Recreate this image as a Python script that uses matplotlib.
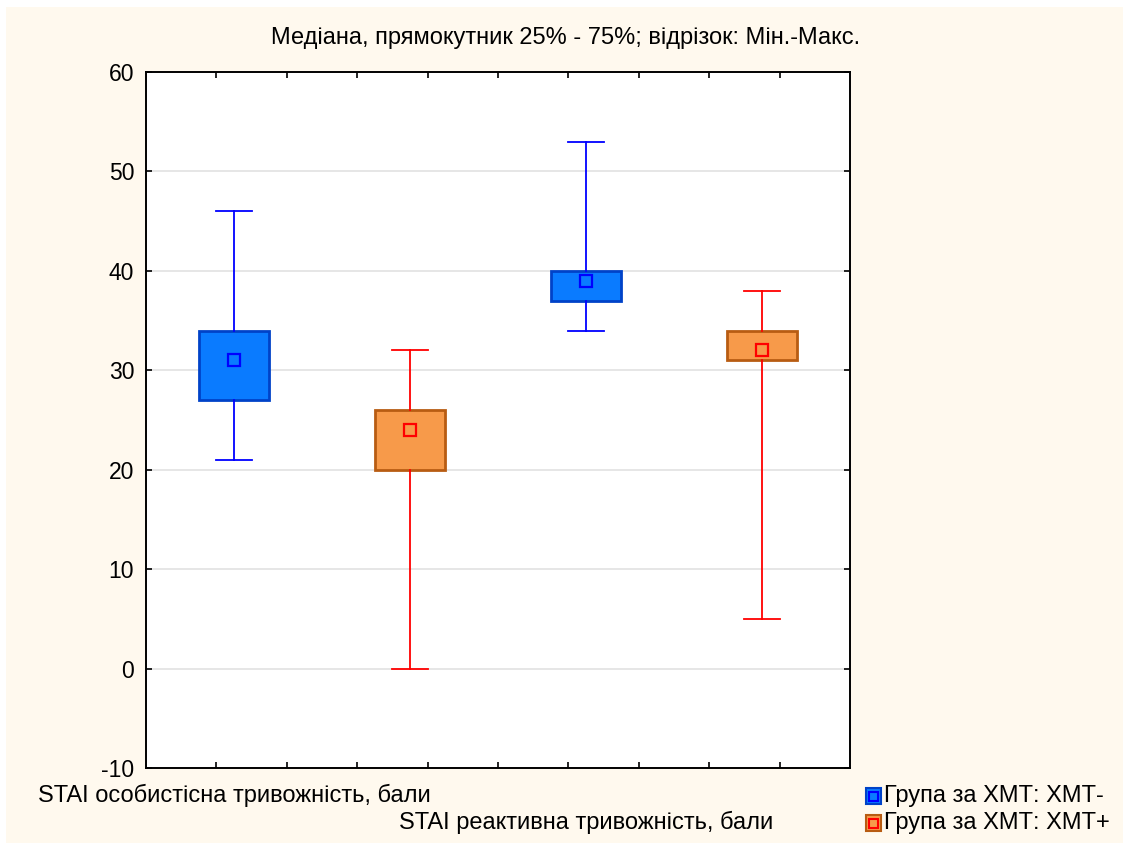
import matplotlib.pyplot as plt
from matplotlib.patches import Rectangle
from matplotlib.transforms import blended_transform_factory

plt.rcParams['font.family'] = ['Liberation Sans', 'DejaVu Sans']
plt.rcParams['axes.unicode_minus'] = False

# summary statistics per box: min, Q1, median, Q3, max
groups = ['STAI особистісна тривожність, бали', 'STAI реактивна тривожність, бали']
series = ['Група за ХМТ: ХМТ-', 'Група за ХМТ: ХМТ+']
mins = [[21, 34], [0, 5]]
q1s = [[27, 37], [20, 31]]
medians = [[31, 39], [24, 32]]
q3s = [[34, 40], [26, 34]]
maxs = [[46, 53], [32, 38]]

box_fill = ['#0A7BFF', '#F79A4A']
box_edge = ['#0042C8', '#B85C12']
line_col = ['#0000FF', '#FF0000']
yticks = [-10, 0, 10, 20, 30, 40, 50, 60]

fig = plt.figure(figsize=(11.23, 8.43), dpi=100, facecolor='white')
fig.patches.append(Rectangle((6 / 1123, 0), 1, 1 - 7 / 843, transform=fig.transFigure,
                             facecolor='#FFF9EE', edgecolor='none', zorder=-10))
ax = fig.add_axes([146 / 1123, 1 - 768 / 843, 704 / 1123, 696 / 843])
ax.set_facecolor('white')

for s in range(len(series)):
    stats = []
    positions = []
    for g in range(len(groups)):
        stats.append(dict(whislo=mins[s][g], q1=q1s[s][g], med=medians[s][g],
                          q3=q3s[s][g], whishi=maxs[s][g], fliers=[]))
        positions.append(g * 2 + s + 0.5)
    ax.bxp(stats, positions=positions, widths=0.4, capwidths=0.2, patch_artist=True,
           boxprops=dict(facecolor=box_fill[s], edgecolor=box_edge[s], linewidth=2),
           whiskerprops=dict(color=line_col[s], linewidth=1.3),
           capprops=dict(color=line_col[s], linewidth=1.3),
           medianprops=dict(linestyle='none'), zorder=3)
    ax.plot(positions, [medians[s][g] for g in range(len(groups))], linestyle='none',
            marker='s', markersize=9, markerfacecolor=box_fill[s],
            markeredgecolor=line_col[s], markeredgewidth=1.6, zorder=4)

ax.set_xlim(0, 4)
ax.set_ylim(-10, 60)
ax.set_yticks(yticks)
ax.set_xticks([i * 0.4 for i in range(1, 10)])
ax.set_xticklabels([])
for y in yticks[1:-1]:
    ax.axhline(y, color='#E2E2E2', linewidth=1.2, zorder=1)
ax.tick_params(direction='in', length=4, width=1.2, top=True, right=True,
               labelright=False, labelsize=16.5, pad=8.5)
for sp in ax.spines.values():
    sp.set_linewidth(1.4)

fig.text(566 / 1123, 1 - 38 / 843, 'Медіана, прямокутник 25% - 75%; відрізок: Мін.-Макс.',
         ha='center', va='center', fontsize=17)

trans = blended_transform_factory(ax.transData, fig.transFigure)
for g, label in enumerate(groups):
    ax.text(g * 2 + 0.5, 1 - (795 + g * 27) / 843, label, transform=trans,
            ha='center', va='center', fontsize=17)

for s, label in enumerate(series):
    yc = 1 - (796 + s * 27) / 843
    fig.patches.append(Rectangle((866 / 1123, yc - 8 / 843), 15 / 1123, 16 / 843,
                                 transform=fig.transFigure, facecolor=box_fill[s],
                                 edgecolor=box_edge[s], linewidth=1.5))
    fig.patches.append(Rectangle((869 / 1123, yc - 4.5 / 843), 9 / 1123, 9 / 843,
                                 transform=fig.transFigure, facecolor='none',
                                 edgecolor=line_col[s], linewidth=1.5))
    fig.text(884 / 1123, yc, label, ha='left', va='center', fontsize=17)

fig.savefig('out.png', dpi=100, facecolor=fig.get_facecolor())
